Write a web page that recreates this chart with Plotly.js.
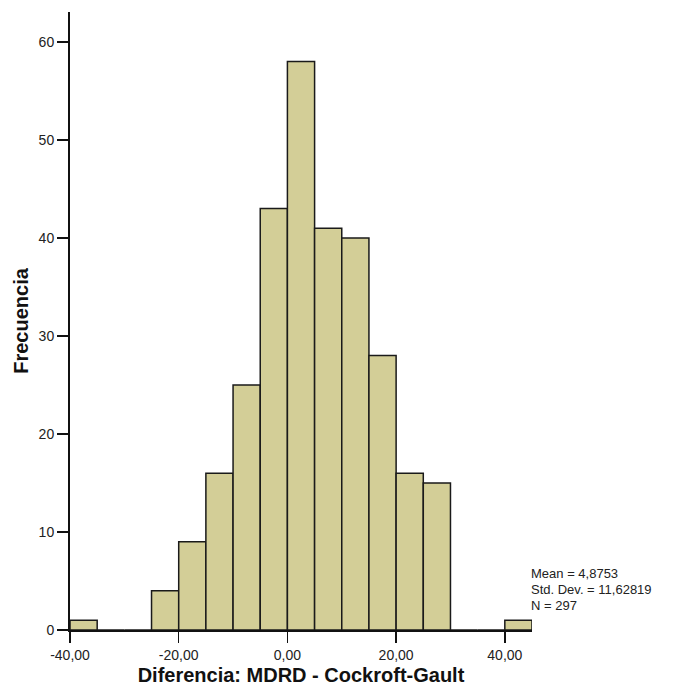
<!DOCTYPE html>
<html>
<head>
<meta charset="utf-8">
<script src="https://cdn.plot.ly/plotly-3.0.1.min.js"></script>
<style>html,body{margin:0;padding:0;background:#fff;}#chart{width:680px;height:691px;}</style>
</head>
<body>
<div id="chart"></div>
<script>
var binStarts = [-40, -35, -30, -25, -20, -15, -10, -5, 0, 5, 10, 15, 20, 25, 30, 35, 40];
var counts    = [1, 0, 0, 4, 9, 16, 25, 43, 58, 41, 40, 28, 16, 15, 0, 0, 1];
var binWidth = 5;
var xTickVals = [-40, -20, 0, 20, 40];
var xTickText = ["-40,00", "-20,00", "0,00", "20,00", "40,00"];
var yTickVals = [0, 10, 20, 30, 40, 50, 60];
var statsText = ["Mean = 4,8753", "Std. Dev. = 11,62819", "N = 297"];

var trace = {
  type: "bar",
  x: binStarts,
  y: counts,
  width: binWidth,
  offset: 0,
  marker: {color: "#d3ce97", line: {color: "#1a1a1a", width: 1.5}},
  hoverinfo: "skip"
};

var statsY = [0.0922, 0.0663, 0.0404];
var annotations = statsText.map(function (t, i) {
  return {
    xref: "paper", yref: "paper",
    x: 1 - 3 / 462, y: statsY[i],
    xanchor: "left", yanchor: "middle",
    align: "left", showarrow: false,
    text: t,
    font: {size: 13, color: "#222"}
  };
});

var layout = {
  width: 680, height: 691,
  margin: {l: 70, r: 148, t: 12, b: 61},
  paper_bgcolor: "#fff", plot_bgcolor: "#fff",
  showlegend: false,
  bargap: 0,
  font: {family: "Liberation Sans, Arial, sans-serif", size: 14, color: "#222"},
  xaxis: {
    range: [-40, 45],
    tickmode: "array", tickvals: xTickVals, ticktext: xTickText,
    ticks: "outside", ticklen: 11, tickwidth: 1.5, tickcolor: "#111",
    showline: true, linecolor: "#111", linewidth: 2,
    showgrid: false, zeroline: false,
    tickfont: {size: 14, color: "#222"},
    automargin: false,
    title: {text: "<b>Diferencia: MDRD - Cockroft-Gault</b>", font: {size: 20, color: "#111"}, standoff: 6}
  },
  yaxis: {
    range: [0, 63.06],
    tickmode: "array", tickvals: yTickVals,
    ticks: "outside", ticklen: 11, tickwidth: 1.5, tickcolor: "#111",
    showline: true, linecolor: "#111", linewidth: 2,
    showgrid: false, zeroline: false,
    tickfont: {size: 14, color: "#222"},
    automargin: false,
    title: {text: "<b>Frecuencia</b>", font: {size: 20, color: "#111"}, standoff: 5}
  },
  annotations: annotations
};

Plotly.newPlot("chart", [trace], layout, {displayModeBar: false, staticPlot: true});
</script>
</body>
</html>
